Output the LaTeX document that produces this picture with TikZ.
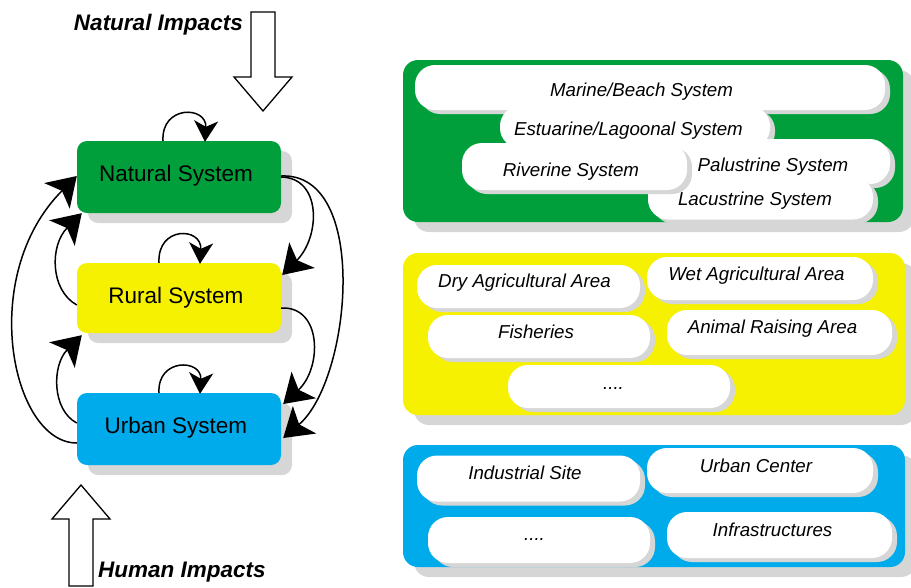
\documentclass[tikz,border=0pt]{standalone}
\usepackage{fontspec}
\setmainfont{Liberation Sans}
\usetikzlibrary{arrows.meta,shadows,calc}

\definecolor{natgreen}{RGB}{0,159,60}
\definecolor{ruryellow}{RGB}{246,241,0}
\definecolor{urbblue}{RGB}{0,171,235}
\definecolor{shade}{RGB}{214,214,214}

\tikzset{
  sysbox/.style={rounded corners=10pt, minimum width=204pt, minimum height=72pt,
    inner sep=0pt,
    drop shadow={shadow xshift=11pt, shadow yshift=-10pt, fill=shade, opacity=1}},
  systext/.style={inner sep=0pt, anchor=base, font=\fontsize{22.5}{24}\selectfont},
  panel/.style={rounded corners=15pt, inner sep=0pt,
    drop shadow={shadow xshift=11pt, shadow yshift=-10pt, fill=shade, opacity=1}},
  pill/.style={fill=white, rounded corners=20pt, inner sep=0pt,
    drop shadow={shadow xshift=5pt, shadow yshift=-4pt, fill=shade, opacity=1}},
  pilltext/.style={inner sep=0pt, anchor=base, font=\fontsize{18.7}{20}\selectfont\itshape},
  flow/.style={line width=1.5pt, -{Stealth[length=28pt,width=36pt,inset=7pt]}},
  selfloop/.style={line width=1.5pt, -{Stealth[length=21pt,width=24pt,inset=6pt]}},
  impact/.style={draw, line width=1.3pt, fill=white, line join=miter},
  impacttext/.style={inner sep=0pt, font=\fontsize{22.5}{24}\selectfont\bfseries\itshape}
}

\begin{document}
\begin{tikzpicture}[x=1pt,y=-1pt]
\useasboundingbox (0,0) rectangle (911,587);

% ---------- impact arrows ----------
\draw[impact] (251,12) -- (275,12) -- (275,77) -- (292,77) -- (263,111)
  -- (234,77) -- (251,77) -- cycle;
\node[impacttext, anchor=base east] (natimp) at (243,30) {Natural Impacts};

\draw[impact] (69,586) -- (93,586) -- (93,519) -- (110,519) -- (81,485)
  -- (52,519) -- (69,519) -- cycle;
\node[impacttext, anchor=base west] (humimp) at (98,577) {Human Impacts};

% ---------- the three systems ----------
\node[sysbox, fill=natgreen] (nat) at (179,177) {};
\node[sysbox, fill=ruryellow, minimum height=70pt] (rur) at (179,298) {};
\node[sysbox, fill=urbblue] (urb) at (179,429) {};
\node[systext] (natlbl) at (176,181.7) {Natural System};
\node[systext] (rurlbl) at (176,303.3) {Rural System};
\node[systext] (urblbl) at (176,433.3) {Urban System};

% self loops
\draw[selfloop] ($(nat.north)+(-16,0)$) .. controls +(-2,-36) and +(2,-36) .. ($(nat.north)+(26,1)$);
\draw[selfloop] ($(rur.north)+(-20,0)$) .. controls +(-2,-37) and +(2,-37) .. ($(rur.north)+(21,1)$);
\draw[selfloop] ($(urb.north)+(-20,0)$) .. controls +(-2,-35) and +(2,-35) .. ($(urb.north)+(21,1)$);

% downward flows (right side)
\draw[flow] ($(nat.east)+(0,0)$) .. controls +(41,1) and +(38,-38) .. ($(rur.east)+(1,-23)$);
\draw[flow] ($(nat.east)+(0,-1)$) .. controls +(89,-4) and +(68,-58) .. ($(urb.east)+(2,9)$);
\draw[flow] ($(rur.east)+(0,10)$) .. controls +(41,-2) and +(39,-36) .. ($(urb.east)+(2,-25)$);

% upward flows (left side)
\draw[flow] ($(urb.west)+(0,14)$) .. controls +(-65,0) and +(-100,100) .. ($(nat.west)+(0,-1)$);
\draw[flow] ($(rur.west)+(0,7)$) .. controls +(-27,-15) and +(-32,32) .. ($(nat.south west)+(5,0)$);
\draw[flow] ($(urb.west)+(0,-6)$) .. controls +(-25,-13) and +(-30,30) .. ($(rur.south west)+(5,2)$);

% ---------- natural system panel ----------
\node[panel, fill=natgreen, minimum width=500pt, minimum height=162pt] (natpanel) at (653,141) {};
\node[pill, minimum width=470pt, minimum height=45pt] (marine) at (650,87.5) {};
\node[pill, minimum width=270pt, minimum height=42pt] (estuar) at (635,127) {};
\node[pill, minimum width=225pt, minimum height=45pt] (palus) at (777.5,161.5) {};
\node[pill, minimum width=225pt, minimum height=43pt] (lacus) at (760.5,198) {};
\node[pill, minimum width=225pt, minimum height=47pt] (river) at (574.5,166.5) {};
\node[pilltext] (marinet) at (641.5,96.7) {Marine/Beach System};
\node[pilltext] (estuart) at (628.5,135.7) {Estuarine/Lagoonal System};
\node[pilltext] (palust) at (773,171.7) {Palustrine System};
\node[pilltext] (lacust) at (755,205) {Lacustrine System};
\node[pilltext] (rivert) at (571,176.7) {Riverine System};

% ---------- rural system panel ----------
\node[panel, fill=ruryellow, minimum width=502pt, minimum height=162pt] (rurpanel) at (654,334) {};
\node[pill, minimum width=223pt, minimum height=43pt] (dryag) at (528.5,286.5) {};
\node[pill, minimum width=226pt, minimum height=43pt] (wetag) at (760,278.5) {};
\node[pill, minimum width=222pt, minimum height=43pt] (fish) at (539,336.5) {};
\node[pill, minimum width=225pt, minimum height=45pt] (animal) at (779.5,332.5) {};
\node[pill, minimum width=222pt, minimum height=43pt] (rurmore) at (619,386.5) {};
\node[pilltext] (dryagt) at (524.5,287.3) {Dry Agricultural Area};
\node[pilltext] (wetagt) at (756.5,280) {Wet Agricultural Area};
\node[pilltext] (fisht) at (536,338.3) {Fisheries};
\node[pilltext] (animalt) at (772.5,333.3) {Animal Raising Area};
\node[pilltext] (rurmoret) at (613.5,389.3) {....};

% ---------- urban system panel ----------
\node[panel, fill=urbblue, minimum width=502pt, minimum height=122pt] (urbpanel) at (654,506) {};
\node[pill, minimum width=223pt, minimum height=46pt] (indus) at (528.5,478.5) {};
\node[pill, minimum width=226pt, minimum height=45pt] (urbcen) at (760,470.5) {};
\node[pill, minimum width=222pt, minimum height=46pt] (urbmore) at (539,540) {};
\node[pill, minimum width=225pt, minimum height=46pt] (infra) at (779.5,535) {};
\node[pilltext] (indust) at (525,479.3) {Industrial Site};
\node[pilltext] (urbcent) at (756,472.3) {Urban Center};
\node[pilltext] (urbmoret) at (534.5,540.7) {....};
\node[pilltext] (infrat) at (772.5,536.7) {Infrastructures};

\end{tikzpicture}
\end{document}
